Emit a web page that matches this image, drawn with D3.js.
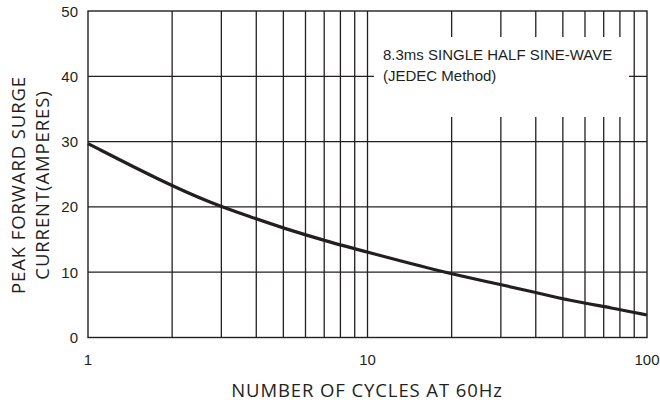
<!DOCTYPE html>
<html lang="en">
<head>
<meta charset="UTF-8">
<title>Peak Forward Surge Current</title>
<script src="https://d3js.org/d3.v7.min.js"></script>
<style>
    body { margin: 0; background: #fff; }
    svg text { fill: #231f20; }
    .tick-label { font-family: 'Liberation Sans', Arial, sans-serif; font-size: 15px; }
    .axis-title { font-family: 'Open Sans', sans-serif; font-size: 18.5px; letter-spacing: 0.9px; }
    .note { font-family: 'Liberation Sans', Arial, sans-serif; font-size: 15px; }
</style>
</head>
<body>
<div id="chart"></div>
<script>
    // curve
    const cycles = [1, 1.8, 2.78, 3.86, 5.03, 7.34, 9.64, 18.6, 28.6, 40.1, 52.2, 75.6, 100];
    const current = [29.7, 24.1, 20.5, 18.4, 16.7, 14.6, 13.25, 10.0, 8.3, 6.9, 5.7, 4.5, 3.45];

    const xGrid = [2, 3, 4, 5, 6, 7, 8, 9, 10, 20, 30, 40, 50, 60, 70, 80, 90];
    const yGrid = [10, 20, 30, 40];
    const xTicks = [1, 10, 100];
    const yTicks = [0, 10, 20, 30, 40, 50];
    const noteLines = ['8.3ms SINGLE HALF SINE-WAVE', '(JEDEC Method)'];

    const width = 660, height = 402;
    const margin = { left: 88, right: 13, top: 11, bottom: 64.5 };
    const ink = '#231f20';

    const svg = d3.select('#chart').append('svg')
        .attr('width', width)
        .attr('height', height);

    const x = d3.scaleLog().domain([1, 100]).range([margin.left, width - margin.right]);
    const y = d3.scaleLinear().domain([0, 50]).range([height - margin.bottom, margin.top]);

    // grid
    svg.append('g').selectAll('line')
        .data(xGrid)
        .join('line')
        .attr('x1', d => x(d)).attr('x2', d => x(d))
        .attr('y1', y(0)).attr('y2', y(50))
        .attr('stroke', ink).attr('stroke-width', 1.3);

    svg.append('g').selectAll('line')
        .data(yGrid)
        .join('line')
        .attr('x1', x(1)).attr('x2', x(100))
        .attr('y1', d => y(d)).attr('y2', d => y(d))
        .attr('stroke', ink).attr('stroke-width', 1.3);

    // white panel behind the note
    svg.append('rect')
        .attr('x', 374).attr('y', 37)
        .attr('width', 255).attr('height', 80)
        .attr('fill', '#fff');

    svg.append('rect')
        .attr('x', x(1)).attr('y', y(50))
        .attr('width', x(100) - x(1)).attr('height', y(0) - y(50))
        .attr('fill', 'none').attr('stroke', ink).attr('stroke-width', 1.4);

    const note = svg.append('text').attr('class', 'note').attr('x', 383).attr('y', 60);
    note.selectAll('tspan')
        .data(noteLines)
        .join('tspan')
        .attr('x', 383)
        .attr('dy', (d, i) => i ? 21 : 0)
        .text(d => d);

    // curve
    const line = d3.line()
        .x((d, i) => x(cycles[i]))
        .y(d => y(d))
        .curve(d3.curveBasis);

    svg.append('path')
        .datum(current)
        .attr('d', line)
        .attr('fill', 'none')
        .attr('stroke', ink)
        .attr('stroke-width', 3.2);

    // tick labels
    svg.append('g').selectAll('text')
        .data(yTicks)
        .join('text')
        .attr('class', 'tick-label')
        .attr('x', 78)
        .attr('y', d => y(d) + 5.5)
        .attr('text-anchor', 'end')
        .text(d => d);

    svg.append('g').selectAll('text')
        .data(xTicks)
        .join('text')
        .attr('class', 'tick-label')
        .attr('x', d => x(d))
        .attr('y', 365)
        .attr('text-anchor', 'middle')
        .text(d => d);

    // axis titles
    svg.append('text')
        .attr('class', 'axis-title')
        .attr('x', 367)
        .attr('y', 397)
        .attr('text-anchor', 'middle')
        .text('NUMBER OF CYCLES AT 60Hz');

    const yTitle = svg.append('text')
        .attr('class', 'axis-title')
        .attr('transform', 'translate(0,185) rotate(-90)')
        .attr('text-anchor', 'middle');
    yTitle.append('tspan').attr('x', 0).attr('y', 25).text('PEAK FORWARD SURGE');
    yTitle.append('tspan').attr('x', 0).attr('y', 48.5).text('CURRENT(AMPERES)');
</script>
</body>
</html>
